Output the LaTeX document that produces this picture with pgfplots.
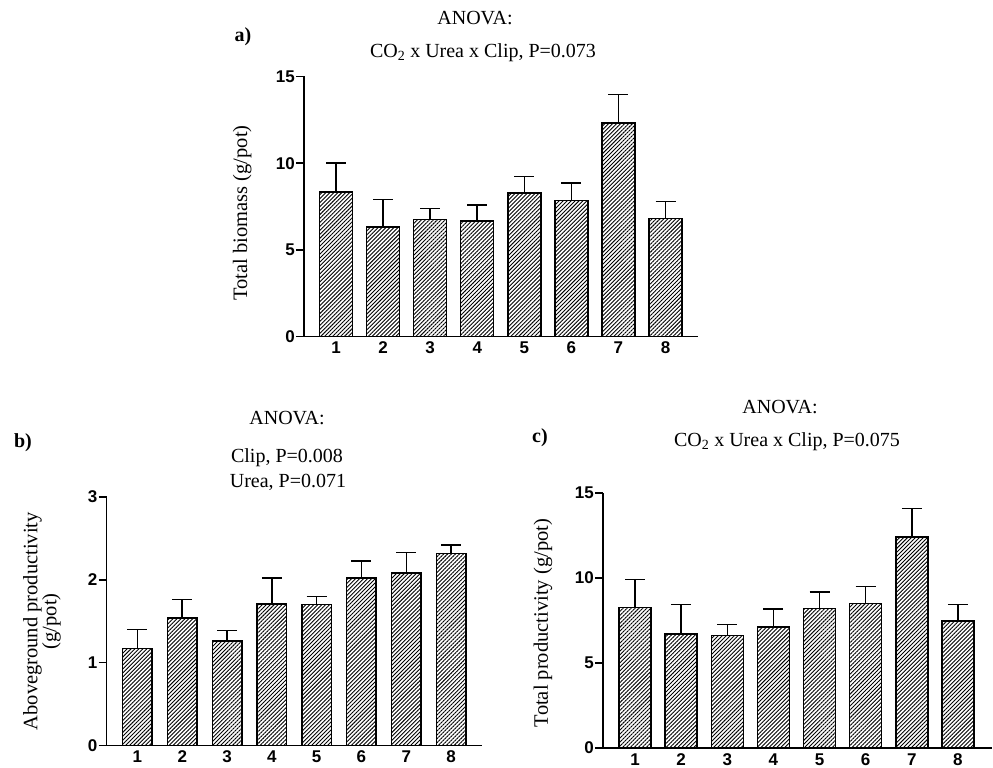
\documentclass[border=0pt]{standalone}
\usepackage{fontspec}
\setmainfont{Liberation Serif}
\setsansfont{Liberation Sans}
\usepackage{pgfplots}
\usepackage{pgfplotstable}
\pgfplotsset{compat=1.18}
\usetikzlibrary{patterns.meta}

\pgfplotstableread{
x y e
1 8.33 1.67
2 6.31 1.59
3 6.76 0.61
4 6.66 0.92
5 8.27 0.96
6 7.85 1.00
7 12.32 1.63
8 6.81 0.98
}\dataA
\pgfplotstableread{
x y e
1 1.17 0.23
2 1.54 0.22
3 1.26 0.13
4 1.71 0.31
5 1.70 0.10
6 2.02 0.21
7 2.08 0.25
8 2.32 0.10
}\dataB
\pgfplotstableread{
x y e
1 8.25 1.67
2 6.72 1.73
3 6.62 0.65
4 7.13 1.06
5 8.21 0.98
6 8.51 1.00
7 12.40 1.69
8 7.47 0.98
}\dataC

\pgfplotsset{
  panel/.style={
    scale only axis, anchor=south west, clip=false,
    axis lines=left, axis line style={line width=1.6pt,-},
    ymin=0,
    xtick={1,...,8}, xticklabels={1,2,3,4,5,6,7,8},
    x tick style={draw=none},
    y tick style={line width=1.6pt, black},
    tick align=outside, major tick length=8pt,
    ticklabel style={font=\fontsize{17}{17}\selectfont\sffamily\bfseries},
    xticklabel style={inner sep=2pt, text height=12.3pt, text depth=0pt, yshift=5pt},
    yticklabel style={inner sep=1pt},
    ylabel style={anchor=center, font=\fontsize{20.5}{19}\selectfont, align=center},
    ybar, bar shift=0pt,
  },
  hbar/.style={draw=black, line width=1.5pt,
    pattern={Lines[angle=45,distance=2.8pt,line width=0.9pt]},
    error bars/.cd, y dir=plus, y explicit,
    error bar style={line width=1.5pt, black},
    error mark options={rotate=90, line width=1.5pt, black, mark size=10pt}},
}

\begin{document}
\begin{tikzpicture}
\useasboundingbox (0,0) rectangle (993pt,768pt);
\tikzset{ttl/.style={font=\fontsize{20}{22}\selectfont, inner sep=0pt}}

% panel a
\begin{axis}[panel, at={(304pt,431.5pt)}, width=394pt, height=260pt,
  xmin=0.32, xmax=8.69, ymax=15, ytick={0,5,10,15}, yticklabels={0,5,10,15},
  bar width=33pt,
  ylabel={Total biomass (g/pot)},
  ylabel style={at={(axis description cs:-0.157,0.475)}}]
\addplot[hbar] table[x=x,y=y,y error=e] {\dataA};
\end{axis}
\node[ttl, font=\fontsize{20}{22}\selectfont\bfseries] at (243pt,731pt) {a)};
\node[ttl] at (475pt,750pt) {ANOVA:};
\node[ttl] at (483pt,715pt) {CO\textsubscript{2} x Urea x Clip, P=0.073};

% panel b
\begin{axis}[panel, at={(106.5pt,22.5pt)}, width=375.5pt, height=248.5pt,
  xmin=0.31, xmax=8.69, ymax=3, ytick={0,1,2,3}, yticklabels={0,1,2,3},
  bar width=29.5pt,
  ylabel={Aboveground productivity\\(g/pot)},
  ylabel style={at={(axis description cs:-0.172,0.5)}}]
\addplot[hbar] table[x=x,y=y,y error=e] {\dataB};
\end{axis}
\node[ttl, font=\fontsize{20}{22}\selectfont\bfseries] at (23pt,325pt) {b)};
\node[ttl] at (287pt,350pt) {ANOVA:};
\node[ttl] at (287pt,310pt) {Clip, P=0.008};
\node[ttl] at (288pt,286pt) {Urea, P=0.071};

% panel c
\begin{axis}[panel, at={(603pt,20pt)}, width=389pt, height=255pt,
  xmin=0.306, xmax=8.74, ymax=15, ytick={0,5,10,15}, yticklabels={0,5,10,15},
  bar width=32pt,
  ylabel={Total productivity (g/pot)},
  ylabel style={at={(axis description cs:-0.154,0.49)}}]
\addplot[hbar] table[x=x,y=y,y error=e] {\dataC};
\end{axis}
\node[ttl, font=\fontsize{20}{22}\selectfont\bfseries] at (540pt,330pt) {c)};
\node[ttl] at (780pt,361pt) {ANOVA:};
\node[ttl] at (787pt,326pt) {CO\textsubscript{2} x Urea x Clip, P=0.075};
\end{tikzpicture}
\end{document}
